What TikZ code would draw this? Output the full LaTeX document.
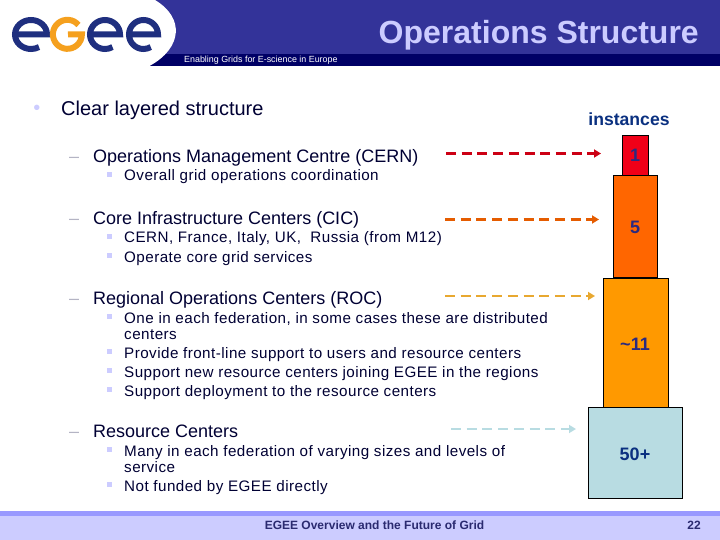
\documentclass[tikz,border=0pt]{standalone}
\usepackage{fontspec}
\setmainfont{Liberation Sans}
\newfontfamily\spacedfont[LetterSpace=3]{Liberation Sans}
\usetikzlibrary{arrows.meta}
\definecolor{headblue}{HTML}{333399}
\definecolor{headdark}{HTML}{000066}
\definecolor{inkblue}{HTML}{000033}
\definecolor{numblue}{HTML}{2A2A80}
\definecolor{deepblue}{HTML}{0A3080}
\definecolor{footink}{HTML}{2A2A70}
\definecolor{lavender}{HTML}{CCCCFF}
\definecolor{dashgrey}{HTML}{B4B4C4}
\definecolor{footband}{HTML}{9999FF}
\definecolor{logoblue}{HTML}{1F2F7F}
\definecolor{logoorange}{HTML}{F5A01E}
\definecolor{redbox}{HTML}{F00018}
\definecolor{orangebox}{HTML}{FF6600}
\definecolor{amberbox}{HTML}{FF9900}
\definecolor{bluebox}{HTML}{B8DCE2}
\definecolor{amberline}{HTML}{E8A830}
\tikzset{
  level1/.style={anchor=base west, yshift=-7pt, inner sep=0pt, text=inkblue, font=\fontsize{20}{20}\selectfont},
  level2/.style={anchor=base west, yshift=-6.2pt, inner sep=0pt, text=inkblue, font=\fontsize{18}{18}\selectfont},
  level3/.style={anchor=base west, yshift=-5pt, inner sep=0pt, text=inkblue, font=\spacedfont\fontsize{15.2}{15}\selectfont},
  dashmark/.style={anchor=base west, yshift=-6.2pt, inner sep=0pt, text=dashgrey, font=\fontsize{18}{18}\selectfont},
  tier/.style={draw=black, line width=0.8pt, anchor=north west, inner sep=0pt, outer sep=0pt},
  count/.style={inner sep=0pt, text=numblue, font=\bfseries\fontsize{18}{18}\selectfont},
  link/.style={line width=#1, dash pattern=on 10pt off 5.7pt, -{Triangle[length=7pt,width=8pt]}},
  logostroke/.style={line width=6pt},
  square/.style={fill=lavender, inner sep=0pt, minimum size=5pt},
}
\begin{document}
\begin{tikzpicture}[x=1pt, y=-1pt]
    \useasboundingbox (0, 0) rectangle (720, 540);
    % header
    \fill[headblue] (150, 0) rectangle (720, 54.3);
    \fill[headdark] (150, 54.3) rectangle (720, 65.7);
    \fill[white] (0, 0) -- (155, 0) .. controls (185, 18) and (182, 48) .. (150, 65.7) -- (0, 65.7) -- cycle;
    % logo
    \draw[logoblue, logostroke] (15, 34.5) -- (47, 34.5) arc[start angle=0, end angle=-300, x radius=16, y radius=14.5];
    \draw[logoorange, logostroke] (78.5, 25) arc[start angle=-40, end angle=-360, x radius=14.5, y radius=14.5] -- (68, 34.5);
    \draw[logoblue, logostroke] (90, 34.5) -- (120, 34.5) arc[start angle=0, end angle=-300, x radius=15, y radius=14.5];
    \draw[logoblue, logostroke] (130, 34.5) -- (158, 34.5) arc[start angle=0, end angle=-300, x radius=14.5, y radius=14.5];
    \node[anchor=base east, inner sep=0pt, text=lavender, font=\bfseries\fontsize{32}{32}\selectfont] (title) at (699, 44) {Operations Structure};
    \node[anchor=base west, inner sep=0pt, text=white, font=\fontsize{8.9}{9}\selectfont] (tagline) at (184, 63) {Enabling Grids for E-science in Europe};
    % text
    \node[anchor=center, inner sep=0pt, text=lavender, font=\fontsize{20}{20}\selectfont] (dot) at (37, 110) {•};
    \node[level1] (clear) at (61, 109) {Clear layered structure};
    \node[dashmark] (omc_d) at (69, 156) {–};
    \node[level2] (omc) at (93, 156) {Operations Management Centre (CERN)};
    \node[square] at (109.5, 175) {};
    \node[level3] (omc_a) at (124, 176) {Overall grid operations coordination};
    \node[dashmark] (cic_d) at (69, 218) {–};
    \node[level2] (cic) at (93, 218) {Core Infrastructure Centers (CIC)};
    \node[square] at (109.5, 236.5) {};
    \node[level3] (cic_a) at (124, 238) {CERN, France, Italy, UK,~ Russia (from M12)};
    \node[square] at (109.5, 255.5) {};
    \node[level3] (cic_b) at (124, 257) {Operate core grid services};
    \node[dashmark] (roc_d) at (69, 298) {–};
    \node[level2] (roc) at (93, 298) {Regional Operations Centers (ROC)};
    \node[square] at (109.5, 316.5) {};
    \node[level3] (roc_a) at (124, 318) {One in each federation, in some cases these are distributed};
    \node[level3] (roc_a2) at (124, 334) {centers};
    \node[square] at (109.5, 351.5) {};
    \node[level3] (roc_b) at (124, 353) {Provide front-line support to users and resource centers};
    \node[square] at (109.5, 370.5) {};
    \node[level3] (roc_c) at (124, 372) {Support new resource centers joining EGEE in the regions};
    \node[square] at (109.5, 389.5) {};
    \node[level3] (roc_d) at (124, 391) {Support deployment to the resource centers};
    \node[dashmark] (rc_d) at (69, 431) {–};
    \node[level2] (rc) at (93, 431) {Resource Centers};
    \node[square] at (109.5, 449.5) {};
    \node[level3] (rc_a) at (124, 451) {Many in each federation of varying sizes and levels of};
    \node[level3] (rc_a2) at (124, 467) {service};
    \node[square] at (109.5, 484.5) {};
    \node[level3] (rc_b) at (124, 486) {Not funded by EGEE directly};
    % tower
    \node[anchor=center, inner sep=0pt, text=deepblue, font=\bfseries\fontsize{17.6}{18}\selectfont] (instances) at (629, 119) {instances};
    \node[tier, fill=redbox, minimum width=26pt, minimum height=40pt] (t1) at (622, 135) {};
    \node[tier, fill=orangebox, minimum width=44pt, minimum height=102pt] (t5) at (613.5, 175.5) {};
    \node[tier, fill=amberbox, minimum width=64.5pt, minimum height=129pt] (t11) at (603.5, 278) {};
    \node[tier, fill=bluebox, minimum width=94pt, minimum height=91pt] (t50) at (588.5, 407.5) {};
    \node[count] (n1) at (635, 155) {1};
    \node[count] (n5) at (635, 227) {5};
    \node[count] (n11) at (635, 344) {\textasciitilde 11};
    \node[count, text=deepblue] (n50) at (635, 454) {50+};
    % arrows
    \coordinate (a1) at (446, 153.5);
    \coordinate (b1) at (601, 153.5);
    \coordinate (a5) at (445, 219.5);
    \coordinate (b5) at (599, 219.5);
    \coordinate (a11) at (445, 296);
    \coordinate (b11) at (595, 296);
    \coordinate (a50) at (451, 429);
    \coordinate (b50) at (576, 429);
    \draw[link=3pt, redbox!85!black] (a1) -- (b1);
    \draw[link=2.6pt, orangebox!90!black] (a5) -- (b5);
    \draw[link=2.2pt, amberline] (a11) -- (b11);
    \draw[link=2.6pt, bluebox] (a50) -- (b50);
    % footer
    \fill[lavender] (0, 516) rectangle (720, 540);
    \fill[footband] (0, 510.5) rectangle (720, 516);
    \node[anchor=center, inner sep=0pt, text=footink, font=\bfseries\fontsize{12}{12}\selectfont] (foot) at (374.5, 525.5) {EGEE Overview and the Future of Grid};
    \node[anchor=center, inner sep=0pt, text=footink, font=\bfseries\fontsize{12}{12}\selectfont] (page) at (694, 525.5) {22};
\end{tikzpicture}
\end{document}
